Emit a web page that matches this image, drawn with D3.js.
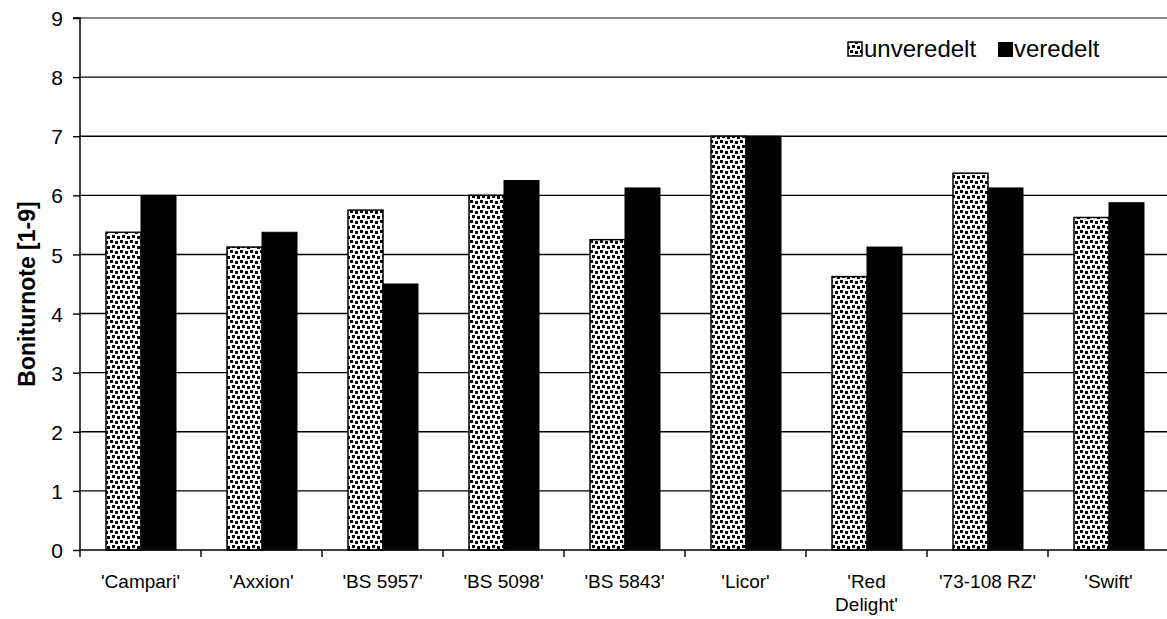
<!DOCTYPE html>
<html><head><meta charset="utf-8">
<script src="https://cdn.jsdelivr.net/npm/d3@7"></script>
<style>body{margin:0;background:#fff;font-family:"Liberation Sans",Arial,sans-serif;}</style>
</head><body><svg id="c" width="1167" height="619" font-family="Liberation Sans, Arial, sans-serif"></svg>
<script>
const categories = ["'Campari'","'Axxion'","'BS 5957'","'BS 5098'","'BS 5843'","'Licor'","'Red Delight'","'73-108 RZ'","'Swift'"];
const unveredelt = [5.375,5.125,5.75,6.0,5.25,7.0,4.625,6.375,5.625];
const veredelt = [6.0,5.375,4.5,6.25,6.125,7.0,5.125,6.125,5.875];
const seriesNames = ["unveredelt","veredelt"];
const yTicks = [0,1,2,3,4,5,6,7,8,9];

const svg = d3.select("#c");
const m = {l:80, t:18, r:1169, b:550};
const x = d3.scaleBand().domain(categories).range([m.l, m.r]);
const y = d3.scaleLinear().domain([0,9]).range([m.b, m.t]);

const defs = svg.append("defs");
const pat = defs.append("pattern").attr("id","dots").attr("patternUnits","userSpaceOnUse")
  .attr("width",10).attr("height",10);
pat.append("rect").attr("width",10).attr("height",10).attr("fill","#fff");
[[0,0],[5,1],[2,5],[7,6]].forEach(([px,py])=>
  pat.append("rect").attr("x",px).attr("y",py).attr("width",3).attr("height",3).attr("fill","#000"));

// gridlines
svg.append("g").selectAll("line").data(yTicks.filter(d=>d>0&&d<9)).join("line")
  .attr("x1",m.l).attr("x2",m.r).attr("y1",d=>y(d)).attr("y2",d=>y(d))
  .attr("stroke","#000").attr("stroke-width",1.4);
svg.append("line").attr("x1",m.l).attr("x2",m.r).attr("y1",y(9)).attr("y2",y(9))
  .attr("stroke","#888").attr("stroke-width",2);

// bars
const bw = 35, off = 26;
const g = svg.append("g");
categories.forEach((c,i)=>{
  g.append("rect").attr("x",x(c)+off).attr("y",y(unveredelt[i])).attr("width",bw)
   .attr("height",y(0)-y(unveredelt[i])).attr("fill","url(#dots)").attr("stroke","#000").attr("stroke-width",1.5);
  g.append("rect").attr("x",x(c)+off+bw).attr("y",y(veredelt[i])).attr("width",bw)
   .attr("height",y(0)-y(veredelt[i])).attr("fill","#000").attr("stroke","#000").attr("stroke-width",1);
});

// y axis
const ya = svg.append("g").attr("transform",`translate(${m.l},0)`)
  .call(d3.axisLeft(y).tickValues(yTicks).tickSize(7).tickPadding(10).tickFormat(d3.format("d")));
ya.select(".domain").attr("stroke","#000").attr("stroke-width",1.5).attr("d",`M-7,${m.t}H0V${m.b}`);
ya.selectAll(".tick line").attr("stroke","#000").attr("stroke-width",1.4);
ya.selectAll(".tick text").attr("font-size",21).attr("font-family","Liberation Sans, Arial, sans-serif").attr("fill","#000").attr("dy","0.36em");

// x axis
const xa = svg.append("g").attr("transform",`translate(0,${m.b})`);
xa.append("line").attr("x1",m.l).attr("x2",m.r).attr("stroke","#000").attr("stroke-width",1.5);
const xt = d3.range(categories.length+1).map(i=>m.l+i*x.step());
xa.selectAll("line.t").data(xt).join("line").attr("class","t")
  .attr("x1",d=>d).attr("x2",d=>d).attr("y1",0).attr("y2",7).attr("stroke","#000").attr("stroke-width",1.4);
categories.forEach(c=>{
  const cx = x(c)+x.bandwidth()/2;
  const t = xa.append("text").attr("x",cx).attr("text-anchor","middle").attr("font-size",19).attr("fill","#000");
  if (c==="'Red Delight'") {
    t.append("tspan").attr("x",cx).attr("y",38).text("'Red");
    t.append("tspan").attr("x",cx).attr("y",61).text("Delight'");
  } else {
    t.attr("y",38).text(c);
  }
});

// y label
svg.append("text").attr("transform","translate(35,294) rotate(-90)").attr("text-anchor","middle")
  .attr("font-size",23).attr("font-weight","bold").attr("fill","#000").text("Boniturnote [1-9]");

// legend
const lg = svg.append("g");
lg.append("rect").attr("x",848).attr("y",42).attr("width",14).attr("height",14).attr("fill","url(#dots)").attr("stroke","#000").attr("stroke-width",1.5);
lg.append("text").attr("x",864).attr("y",57).attr("font-size",24).attr("fill","#000").text(seriesNames[0]);
lg.append("rect").attr("x",998).attr("y",42).attr("width",15).attr("height",15).attr("fill","#000");
lg.append("text").attr("x",1014).attr("y",57).attr("font-size",24).attr("fill","#000").text(seriesNames[1]);
</script></body></html>
